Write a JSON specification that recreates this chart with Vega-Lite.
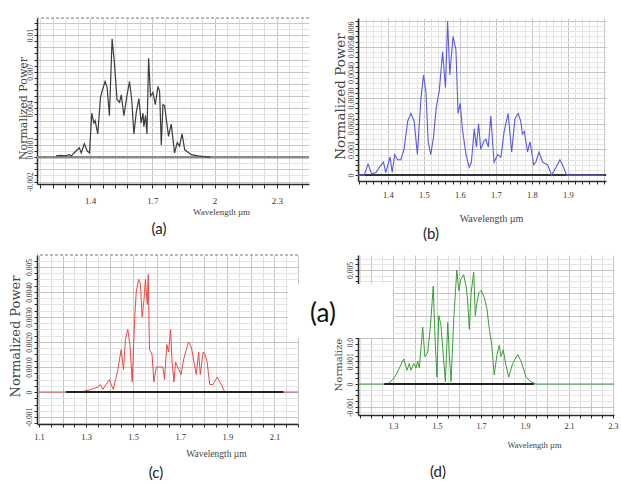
{
  "$schema": "https://vega.github.io/schema/vega-lite/v6.json",
  "padding": {"left": 9, "top": 17, "right": 5, "bottom": 5},
  "background": "white",
  "columns": 2,
  "bounds": "flush",
  "align": "each",
  "spacing": {"row": 71, "column": 49},
  "datasets": {
    "a": [
      {"wl": 1.236, "p": 0.0001}, {"wl": 1.26, "p": 0.00015}, {"wl": 1.28, "p": 0.0001}, {"wl": 1.3, "p": 0.0002}, {"wl": 1.31, "p": 0.0001}, {"wl": 1.32, "p": 0.0003},
      {"wl": 1.332, "p": 0.0005}, {"wl": 1.348, "p": 0.00076}, {"wl": 1.357, "p": 0.00035}, {"wl": 1.372, "p": 0.0011}, {"wl": 1.386, "p": 0.0005}, {"wl": 1.397, "p": 0.00035},
      {"wl": 1.408, "p": 0.0036}, {"wl": 1.418, "p": 0.0028}, {"wl": 1.424, "p": 0.003}, {"wl": 1.437, "p": 0.0019}, {"wl": 1.45, "p": 0.0049}, {"wl": 1.456, "p": 0.0053},
      {"wl": 1.472, "p": 0.0062}, {"wl": 1.482, "p": 0.0057}, {"wl": 1.493, "p": 0.0034}, {"wl": 1.506, "p": 0.0097}, {"wl": 1.517, "p": 0.0077}, {"wl": 1.53, "p": 0.0047},
      {"wl": 1.542, "p": 0.0045}, {"wl": 1.55, "p": 0.0051}, {"wl": 1.563, "p": 0.0034}, {"wl": 1.577, "p": 0.005}, {"wl": 1.59, "p": 0.0062}, {"wl": 1.601, "p": 0.0046},
      {"wl": 1.611, "p": 0.0019}, {"wl": 1.622, "p": 0.0036}, {"wl": 1.635, "p": 0.0048}, {"wl": 1.646, "p": 0.0028}, {"wl": 1.655, "p": 0.0036}, {"wl": 1.659, "p": 0.0025},
      {"wl": 1.667, "p": 0.0034}, {"wl": 1.674, "p": 0.0019}, {"wl": 1.682, "p": 0.0081}, {"wl": 1.691, "p": 0.005}, {"wl": 1.703, "p": 0.0053}, {"wl": 1.714, "p": 0.0043},
      {"wl": 1.727, "p": 0.0058}, {"wl": 1.735, "p": 0.0054}, {"wl": 1.743, "p": 0.001}, {"wl": 1.751, "p": 0.0043}, {"wl": 1.759, "p": 0.0042}, {"wl": 1.778, "p": 0.0017},
      {"wl": 1.791, "p": 0.0027}, {"wl": 1.807, "p": 0.00035}, {"wl": 1.82, "p": 0.0012}, {"wl": 1.831, "p": 0.0009}, {"wl": 1.843, "p": 0.0019}, {"wl": 1.856, "p": 0.0006},
      {"wl": 1.872, "p": 0.0004}, {"wl": 1.888, "p": 0.0002}, {"wl": 1.92, "p": 0.0001}, {"wl": 1.95, "p": 0.00005}, {"wl": 1.98, "p": 0}
    ],
    "b": [
      {"wl": 1.317, "p": 0}, {"wl": 1.334, "p": 0}, {"wl": 1.345, "p": 0.00043}, {"wl": 1.355, "p": 0.00005}, {"wl": 1.367, "p": 0.0001}, {"wl": 1.376, "p": 0.0003},
      {"wl": 1.388, "p": 0.0005}, {"wl": 1.394, "p": 0.0001}, {"wl": 1.4, "p": 0.0004}, {"wl": 1.406, "p": 0.0007}, {"wl": 1.412, "p": 0.0001}, {"wl": 1.419, "p": 0.0008},
      {"wl": 1.427, "p": 0.0006}, {"wl": 1.436, "p": 0.0006}, {"wl": 1.445, "p": 0.001}, {"wl": 1.455, "p": 0.0021}, {"wl": 1.464, "p": 0.0024}, {"wl": 1.473, "p": 0.0021},
      {"wl": 1.482, "p": 0.0008}, {"wl": 1.492, "p": 0.003}, {"wl": 1.499, "p": 0.0039}, {"wl": 1.506, "p": 0.0032}, {"wl": 1.512, "p": 0.0013}, {"wl": 1.519, "p": 0.0008},
      {"wl": 1.527, "p": 0.0015}, {"wl": 1.534, "p": 0.0026}, {"wl": 1.543, "p": 0.0033}, {"wl": 1.552, "p": 0.0048}, {"wl": 1.56, "p": 0.0034}, {"wl": 1.566, "p": 0.006},
      {"wl": 1.572, "p": 0.0039}, {"wl": 1.581, "p": 0.0054}, {"wl": 1.589, "p": 0.0049}, {"wl": 1.595, "p": 0.0024}, {"wl": 1.601, "p": 0.0028}, {"wl": 1.607, "p": 0.0018},
      {"wl": 1.617, "p": 0.0008}, {"wl": 1.626, "p": 0.0003}, {"wl": 1.632, "p": 0.0005}, {"wl": 1.64, "p": 0.0018}, {"wl": 1.646, "p": 0.0011}, {"wl": 1.652, "p": 0.002},
      {"wl": 1.658, "p": 0.001}, {"wl": 1.666, "p": 0.0013}, {"wl": 1.672, "p": 0.0014}, {"wl": 1.679, "p": 0.0011}, {"wl": 1.686, "p": 0.0023}, {"wl": 1.695, "p": 0.0005},
      {"wl": 1.705, "p": 0.0008}, {"wl": 1.714, "p": 0.0007}, {"wl": 1.723, "p": 0.0017}, {"wl": 1.734, "p": 0.0024}, {"wl": 1.744, "p": 0.0009}, {"wl": 1.753, "p": 0.0022},
      {"wl": 1.762, "p": 0.0024}, {"wl": 1.769, "p": 0.0021}, {"wl": 1.774, "p": 0.0016}, {"wl": 1.779, "p": 0.0017}, {"wl": 1.788, "p": 0.0009}, {"wl": 1.795, "p": 0.0013},
      {"wl": 1.805, "p": 0.0004}, {"wl": 1.811, "p": 0.0005}, {"wl": 1.82, "p": 0.0009}, {"wl": 1.83, "p": 0.0005}, {"wl": 1.844, "p": 0.0004}, {"wl": 1.855, "p": 0},
      {"wl": 1.867, "p": 0.0003}, {"wl": 1.878, "p": 0.0006}, {"wl": 1.885, "p": 0.0004}, {"wl": 1.897, "p": 0}, {"wl": 2.0, "p": 0}
    ],
    "c": [
      {"wl": 1.0915, "p": 0}, {"wl": 1.2, "p": 0}, {"wl": 1.279, "p": 0}, {"wl": 1.321, "p": 0.0001}, {"wl": 1.35, "p": 0.0002}, {"wl": 1.361, "p": 0.0003},
      {"wl": 1.371, "p": 0.0001}, {"wl": 1.385, "p": 0.0003}, {"wl": 1.399, "p": 0.0005}, {"wl": 1.406, "p": 0.0003}, {"wl": 1.416, "p": 0.0001}, {"wl": 1.425, "p": 0.0005},
      {"wl": 1.435, "p": 0.0009}, {"wl": 1.442, "p": 0.0013}, {"wl": 1.449, "p": 0.0017}, {"wl": 1.459, "p": 0.0009}, {"wl": 1.467, "p": 0.0021}, {"wl": 1.477, "p": 0.0025},
      {"wl": 1.486, "p": 0.0019}, {"wl": 1.496, "p": 0.0004}, {"wl": 1.506, "p": 0.0029}, {"wl": 1.513, "p": 0.004}, {"wl": 1.523, "p": 0.0045}, {"wl": 1.531, "p": 0.0043},
      {"wl": 1.538, "p": 0.003}, {"wl": 1.546, "p": 0.0037}, {"wl": 1.552, "p": 0.0045}, {"wl": 1.56, "p": 0.0035}, {"wl": 1.564, "p": 0.0047}, {"wl": 1.569, "p": 0.0017},
      {"wl": 1.58, "p": 0.0015}, {"wl": 1.588, "p": 0.0004}, {"wl": 1.598, "p": 0.001}, {"wl": 1.612, "p": 0.001}, {"wl": 1.626, "p": 0.001}, {"wl": 1.633, "p": 0.0005},
      {"wl": 1.643, "p": 0.0019}, {"wl": 1.65, "p": 0.0016}, {"wl": 1.659, "p": 0.0025}, {"wl": 1.665, "p": 0.0012}, {"wl": 1.673, "p": 0.0004}, {"wl": 1.68, "p": 0.0012},
      {"wl": 1.693, "p": 0.0009}, {"wl": 1.704, "p": 0.0007}, {"wl": 1.714, "p": 0.0013}, {"wl": 1.723, "p": 0.0016}, {"wl": 1.735, "p": 0.002}, {"wl": 1.747, "p": 0.0018},
      {"wl": 1.758, "p": 0.0012}, {"wl": 1.768, "p": 0.0007}, {"wl": 1.778, "p": 0.0016}, {"wl": 1.785, "p": 0.0007}, {"wl": 1.797, "p": 0.0016}, {"wl": 1.806, "p": 0.0015},
      {"wl": 1.814, "p": 0.0012}, {"wl": 1.825, "p": 0.0003}, {"wl": 1.839, "p": 0.0003}, {"wl": 1.857, "p": 0.0006}, {"wl": 1.874, "p": 0.0003}, {"wl": 1.889, "p": 0},
      {"wl": 2.2, "p": 0}
    ],
    "d": [
      {"wl": 1.141, "p": 0}, {"wl": 1.276, "p": 0}, {"wl": 1.299, "p": 0.0002}, {"wl": 1.314, "p": 0.0004}, {"wl": 1.329, "p": 0.0007}, {"wl": 1.349, "p": 0.0011},
      {"wl": 1.364, "p": 0.0006}, {"wl": 1.374, "p": 0.0009}, {"wl": 1.382, "p": 0.0006}, {"wl": 1.394, "p": 0.0009}, {"wl": 1.405, "p": 0.0007}, {"wl": 1.412, "p": 0.001},
      {"wl": 1.42, "p": 0.0007}, {"wl": 1.435, "p": 0.0025}, {"wl": 1.445, "p": 0.0012}, {"wl": 1.458, "p": 0.0014}, {"wl": 1.47, "p": 0.0025}, {"wl": 1.483, "p": 0.0043},
      {"wl": 1.492, "p": 0.0018}, {"wl": 1.5, "p": 0.0003}, {"wl": 1.508, "p": 0.003}, {"wl": 1.518, "p": 0.0026}, {"wl": 1.529, "p": 0.0012}, {"wl": 1.538, "p": 0.0001},
      {"wl": 1.549, "p": 0.0027}, {"wl": 1.556, "p": 0.0013}, {"wl": 1.564, "p": 0.0001}, {"wl": 1.576, "p": 0.0028}, {"wl": 1.59, "p": 0.005}, {"wl": 1.599, "p": 0.0041},
      {"wl": 1.609, "p": 0.0046}, {"wl": 1.621, "p": 0.0048}, {"wl": 1.632, "p": 0.0043}, {"wl": 1.639, "p": 0.0037}, {"wl": 1.647, "p": 0.0024}, {"wl": 1.655, "p": 0.004},
      {"wl": 1.667, "p": 0.0049}, {"wl": 1.674, "p": 0.003}, {"wl": 1.682, "p": 0.0036}, {"wl": 1.69, "p": 0.004}, {"wl": 1.7, "p": 0.0041}, {"wl": 1.715, "p": 0.0038},
      {"wl": 1.727, "p": 0.0033}, {"wl": 1.738, "p": 0.0024}, {"wl": 1.749, "p": 0.0017}, {"wl": 1.76, "p": 0.0004}, {"wl": 1.773, "p": 0.0013}, {"wl": 1.783, "p": 0.0017},
      {"wl": 1.791, "p": 0.0012}, {"wl": 1.801, "p": 0.0015}, {"wl": 1.814, "p": 0.0008}, {"wl": 1.826, "p": 0.0003}, {"wl": 1.844, "p": 0.0009}, {"wl": 1.867, "p": 0.0013},
      {"wl": 1.882, "p": 0.001}, {"wl": 1.905, "p": 0.0003}, {"wl": 1.927, "p": 0.0001}, {"wl": 1.95, "p": 0}, {"wl": 2.304, "p": 0}
    ]
  },
  "concat": [
    {
      "width": 272, "height": 166,
      "title": {"text": "(a)", "orient": "bottom", "frame": "group", "anchor": "middle", "dx": -14, "offset": 6, "baseline": "top"},
      "layer": [
        {
          "data": {"values": [{}]},
          "mark": {"type": "rule", "color": "#8a8a8a", "strokeWidth": 2.5},
          "encoding": {"y": {"datum": 0, "type": "quantitative", "scale": {"domain": [-0.0022, 0.0114], "nice": false, "zero": false}}}
        },
        {
          "data": {"values": [{}]},
          "mark": {"type": "rule", "color": "#777777", "strokeWidth": 1, "strokeDash": [3, 2]},
          "encoding": {"y": {"datum": 0.0114, "type": "quantitative", "scale": {"domain": [-0.0022, 0.0114], "nice": false, "zero": false}}}
        },
        {
          "data": {"name": "a"},
          "mark": {"type": "line", "color": "#3c3c3c", "strokeWidth": 1.2},
          "encoding": {
            "x": {"field": "wl", "type": "quantitative", "scale": {"domain": [1.144, 2.455], "nice": false, "zero": false},
              "axis": {"values": [1.16, 1.22, 1.28, 1.34, 1.4, 1.46, 1.52, 1.58, 1.64, 1.7, 1.76, 1.82, 1.88, 1.94, 2, 2.06, 2.12, 2.18, 2.24, 2.3, 2.36, 2.42],
                "tickCount": 500, "labelOverlap": false,
                "labelExpr": "(datum.value == 1.4 || datum.value == 1.7 || datum.value == 2 || datum.value == 2.3) ? '' + datum.value : ''",
                "gridColor": {"condition": {"test": "datum.value == 1.4 || datum.value == 1.7 || datum.value == 2 || datum.value == 2.3", "value": "#c4c4c4"}, "value": "#dddddd"},
                "title": "Wavelength µm", "titleX": 184, "titleY": 27, "titleFontSize": 9, "labelFontSize": 9, "labelPadding": 8, "tickSize": 4}},
            "y": {"field": "p", "type": "quantitative", "scale": {"domain": [-0.0022, 0.0114], "nice": false, "zero": false},
              "axis": {"values": [-0.002, -0.0015, -0.001, -0.0005, 0, 0.0005, 0.001, 0.0015, 0.002, 0.0025, 0.003, 0.0035, 0.004, 0.0045, 0.005, 0.0055, 0.006, 0.0065, 0.007, 0.0075, 0.008, 0.0085, 0.009, 0.0095, 0.01, 0.0105, 0.011],
                "tickCount": 500, "labelOverlap": false,
                "labelExpr": "datum.value == 0.01 ? '0.01' : datum.value == 0.007 ? '0.007' : datum.value == 0.004 ? '0.004' : datum.value == 0.001 ? '0.001' : datum.value == 0 ? '0' : datum.value == -0.002 ? '-0.002' : ''",
                "gridColor": {"condition": {"test": "datum.value == -0.002 || datum.value == -0.001 || datum.value == 0 || datum.value == 0.001 || datum.value == 0.002 || datum.value == 0.003 || datum.value == 0.004 || datum.value == 0.005 || datum.value == 0.006 || datum.value == 0.007 || datum.value == 0.008 || datum.value == 0.009 || datum.value == 0.01 || datum.value == 0.011", "value": "#c8c8c8"}, "value": "#e4e4e4"},
                "title": "Normalized Power", "titleFont": "DejaVu Serif", "titleX": -14, "titleY": 90, "titleFontSize": 11, "labelFontSize": 7.5, "labelPadding": 0, "tickSize": 3}}
          }
        }
      ]
    },
    {
      "width": 248, "height": 163,
      "title": {"text": "(b)", "orient": "bottom", "frame": "group", "anchor": "middle", "dx": -51, "offset": 4, "baseline": "top"},
      "layer": [
        {
          "data": {"values": [{}]},
          "mark": {"type": "rule", "color": "#333333", "strokeWidth": 2},
          "encoding": {"y": {"datum": 0, "type": "quantitative", "scale": {"domain": [-0.00023, 0.00612], "nice": false, "zero": false}}}
        },
        {
          "data": {"name": "b"},
          "mark": {"type": "line", "color": "#5a5ae0", "strokeWidth": 1.1},
          "encoding": {
            "x": {"field": "wl", "type": "quantitative", "scale": {"domain": [1.317, 2.006], "nice": false, "zero": false},
              "axis": {"values": [1.32, 1.34, 1.36, 1.38, 1.4, 1.42, 1.44, 1.46, 1.48, 1.5, 1.52, 1.54, 1.56, 1.58, 1.6, 1.62, 1.64, 1.66, 1.68, 1.7, 1.72, 1.74, 1.76, 1.78, 1.8, 1.82, 1.84, 1.86, 1.88, 1.9, 1.92, 1.94, 1.96, 1.98, 2],
                "tickCount": 500, "labelOverlap": false,
                "labelExpr": "(datum.value == 1.4 || datum.value == 1.5 || datum.value == 1.6 || datum.value == 1.7 || datum.value == 1.8 || datum.value == 1.9) ? '' + datum.value : ''",
                "gridColor": {"condition": {"test": "datum.value == 1.4 || datum.value == 1.5 || datum.value == 1.6 || datum.value == 1.7 || datum.value == 1.8 || datum.value == 1.9 || datum.value == 2", "value": "#c4c4c4"}, "value": "#e4e4e4"},
                "title": "Wavelength µm", "titleX": 133, "titleY": 37, "titleFontSize": 10, "labelFontSize": 8.5, "labelPadding": 6, "tickSize": 3}},
            "y": {"field": "p", "type": "quantitative", "scale": {"domain": [-0.00023, 0.00612], "nice": false, "zero": false},
              "axis": {"values": [0, 0.0002, 0.0004, 0.0006, 0.0008, 0.001, 0.0012, 0.0014, 0.0016, 0.0018, 0.002, 0.0022, 0.0024, 0.0026, 0.0028, 0.003, 0.0032, 0.0034, 0.0036, 0.0038, 0.004, 0.0042, 0.0044, 0.0046, 0.0048, 0.005, 0.0052, 0.0054, 0.0056, 0.0058, 0.006],
                "tickCount": 500, "labelOverlap": false,
                "labelExpr": "datum.value == 0 ? '0' : datum.value == 0.001 ? '0.001' : datum.value == 0.002 ? '0.0020' : datum.value == 0.003 ? '0.0030' : datum.value == 0.004 ? '0.0040' : datum.value == 0.005 ? '0.0050' : datum.value == 0.006 ? '0.006' : ''",
                "labelAlign": {"condition": {"test": "datum.value == 0.006", "value": "right"}, "value": "center"},
                "gridColor": {"condition": {"test": "datum.value == 0 || datum.value == 0.001 || datum.value == 0.002 || datum.value == 0.003 || datum.value == 0.004 || datum.value == 0.005 || datum.value == 0.006", "value": "#c4c4c4"}, "value": "#e6e6e6"},
                "title": "Normalized Power", "titleFont": "DejaVu Serif", "titleX": -18, "titleY": 78, "titleFontSize": 13.5, "labelFontSize": 8, "labelPadding": 0, "tickSize": 3}}
          }
        }
      ]
    },
    {
      "width": 261, "height": 169,
      "title": {"text": "(c)", "orient": "bottom", "frame": "group", "anchor": "middle", "dx": -11.5, "offset": 8, "baseline": "top"},
      "layer": [
        {
          "data": {"values": [{}]},
          "mark": {"type": "rule", "color": "#777777", "strokeWidth": 1, "strokeDash": [3, 2]},
          "encoding": {"y": {"datum": 0.00548, "type": "quantitative", "scale": {"domain": [-0.00128, 0.00548], "nice": false, "zero": false}}}
        },
        {
          "data": {"name": "c"},
          "mark": {"type": "line", "color": "#e64a4a", "strokeWidth": 1},
          "encoding": {
            "x": {"field": "wl", "type": "quantitative", "scale": {"domain": [1.0915, 2.2], "nice": false, "zero": false},
              "axis": {"values": [1.1, 1.15, 1.2, 1.25, 1.3, 1.35, 1.4, 1.45, 1.5, 1.55, 1.6, 1.65, 1.7, 1.75, 1.8, 1.85, 1.9, 1.95, 2, 2.05, 2.1, 2.15, 2.2],
                "tickCount": 500, "labelOverlap": false,
                "labelExpr": "(datum.value == 1.1 || datum.value == 1.3 || datum.value == 1.5 || datum.value == 1.7 || datum.value == 1.9 || datum.value == 2.1) ? '' + datum.value : ''",
                "gridColor": {"condition": {"test": "datum.value == 1.1 || datum.value == 1.2 || datum.value == 1.3 || datum.value == 1.4 || datum.value == 1.5 || datum.value == 1.6 || datum.value == 1.7 || datum.value == 1.8 || datum.value == 1.9 || datum.value == 2 || datum.value == 2.1 || datum.value == 2.2", "value": "#c4c4c4"}, "value": "#e0e0e0"},
                "title": "Wavelength µm", "titleX": 179, "titleY": 29, "titleFontSize": 9.5, "labelFontSize": 8.5, "labelPadding": 5, "tickSize": 3}},
            "y": {"field": "p", "type": "quantitative", "scale": {"domain": [-0.00128, 0.00548], "nice": false, "zero": false},
              "axis": {"values": [-0.00125, -0.001, -0.00075, -0.0005, -0.00025, 0, 0.00025, 0.0005, 0.00075, 0.001, 0.00125, 0.0015, 0.00175, 0.002, 0.00225, 0.0025, 0.00275, 0.003, 0.00325, 0.0035, 0.00375, 0.004, 0.00425, 0.0045, 0.00475, 0.005, 0.00525],
                "tickCount": 500, "labelOverlap": false,
                "labelExpr": "datum.value == -0.001 ? '-0.001' : datum.value == 0 ? '0' : datum.value == 0.001 ? '0.0010' : datum.value == 0.002 ? '0.0020' : datum.value == 0.003 ? '0.0030' : datum.value == 0.004 ? '0.0040' : datum.value == 0.005 ? '0.005' : ''",
                "gridColor": {"condition": {"test": "datum.value == -0.001 || datum.value == 0 || datum.value == 0.001 || datum.value == 0.002 || datum.value == 0.003 || datum.value == 0.004 || datum.value == 0.005", "value": "#c4c4c4"}, "value": "#e4e4e4"},
                "title": "Normalized Power", "titleFont": "DejaVu Serif", "titleX": -22, "titleY": 81, "titleFontSize": 13, "labelFontSize": 7.5, "labelPadding": 1, "tickSize": 3}}
          }
        },
        {
          "data": {"values": [{}]},
          "mark": {"type": "rule", "color": "#222222", "strokeWidth": 2},
          "encoding": {
            "x": {"datum": 1.215, "type": "quantitative", "scale": {"domain": [1.0915, 2.2], "nice": false, "zero": false}},
            "x2": {"datum": 2.138},
            "y": {"datum": 0, "type": "quantitative", "scale": {"domain": [-0.00128, 0.00548], "nice": false, "zero": false}}
          }
        }
      ]
    },
    {
      "width": 256, "height": 160,
      "title": {"text": "(d)", "orient": "bottom", "frame": "group", "anchor": "middle", "dx": -48, "offset": 16, "baseline": "top"},
      "layer": [
        {
          "data": {"name": "d"},
          "mark": {"type": "line", "color": "#3c9c3c", "strokeWidth": 1},
          "encoding": {
            "x": {"field": "wl", "type": "quantitative", "scale": {"domain": [1.141, 2.3045], "nice": false, "zero": false},
              "axis": {"values": [1.15, 1.2, 1.25, 1.3, 1.35, 1.4, 1.45, 1.5, 1.55, 1.6, 1.65, 1.7, 1.75, 1.8, 1.85, 1.9, 1.95, 2, 2.05, 2.1, 2.15, 2.2, 2.25, 2.3],
                "tickCount": 500, "labelOverlap": false,
                "labelExpr": "(datum.value == 1.3 || datum.value == 1.5 || datum.value == 1.7 || datum.value == 1.9 || datum.value == 2.1 || datum.value == 2.3) ? '' + datum.value : ''",
                "gridColor": {"condition": {"test": "datum.value == 1.2 || datum.value == 1.3 || datum.value == 1.4 || datum.value == 1.5 || datum.value == 1.6 || datum.value == 1.7 || datum.value == 1.8 || datum.value == 1.9 || datum.value == 2 || datum.value == 2.1 || datum.value == 2.2 || datum.value == 2.3", "value": "#c4c4c4"}, "value": "#e0e0e0"},
                "title": "Wavelength µm", "titleX": 176, "titleY": 29, "titleFontSize": 8.5, "labelFontSize": 8, "labelPadding": 4, "tickSize": 3}},
            "y": {"field": "p", "type": "quantitative", "scale": {"domain": [-0.00136, 0.00566], "nice": false, "zero": false},
              "axis": {"values": [-0.00125, -0.001, -0.00075, -0.0005, -0.00025, 0, 0.00025, 0.0005, 0.00075, 0.001, 0.00125, 0.0015, 0.00175, 0.002, 0.00225, 0.0025, 0.00275, 0.003, 0.00325, 0.0035, 0.00375, 0.004, 0.00425, 0.0045, 0.00475, 0.005, 0.00525, 0.0055],
                "tickCount": 500, "labelOverlap": false,
                "labelExpr": "datum.value == -0.001 ? '-0.001' : datum.value == 0 ? '0' : datum.value == 0.001 ? '0.001' : datum.value == 0.002 ? '0.002' : datum.value == 0.003 ? '0.003' : datum.value == 0.004 ? '0.004' : datum.value == 0.005 ? '0.005' : ''",
                "gridColor": {"condition": {"test": "datum.value == -0.001 || datum.value == 0 || datum.value == 0.001 || datum.value == 0.002 || datum.value == 0.003 || datum.value == 0.004 || datum.value == 0.005", "value": "#c4c4c4"}, "value": "#e4e4e4"},
                "title": "Normalized Power", "titleFont": "DejaVu Serif", "titleX": -20, "titleY": 89, "titleFontSize": 10, "labelFontSize": 7.5, "labelPadding": 1, "tickSize": 3}}
          }
        },
        {
          "data": {"values": [{}]},
          "mark": {"type": "rule", "color": "#222222", "strokeWidth": 2},
          "encoding": {
            "x": {"datum": 1.26, "type": "quantitative", "scale": {"domain": [1.141, 2.3045], "nice": false, "zero": false}},
            "x2": {"datum": 1.94},
            "y": {"datum": 0, "type": "quantitative", "scale": {"domain": [-0.00136, 0.00566], "nice": false, "zero": false}}
          }
        },
        {
          "data": {"values": [{}]},
          "mark": {"type": "rect", "color": "white", "clip": false},
          "encoding": {
            "x": {"datum": 0.8227, "type": "quantitative", "scale": {"domain": [1.141, 2.3045], "nice": false, "zero": false}},
            "x2": {"datum": 1.3},
            "y": {"datum": 0.00439, "type": "quantitative", "scale": {"domain": [-0.00136, 0.00566], "nice": false, "zero": false}},
            "y2": {"datum": 0.00202}
          }
        },
        {
          "data": {"values": [{}]},
          "mark": {"type": "text", "text": "(a)", "font": "Lato", "fontSize": 26, "color": "#111111", "align": "center", "baseline": "middle", "clip": false},
          "encoding": {
            "x": {"datum": 0.982, "type": "quantitative", "scale": {"domain": [1.141, 2.3045], "nice": false, "zero": false}},
            "y": {"datum": 0.00307, "type": "quantitative", "scale": {"domain": [-0.00136, 0.00566], "nice": false, "zero": false}}
          }
        }
      ]
    }
  ],
  "config": {
    "view": {"stroke": null},
    "axis": {
      "labelFont": "Liberation Serif", "titleFont": "Liberation Serif", "labelColor": "#333333", "titleColor": "#444444",
      "titleFontWeight": "normal", "domainColor": "#2a2a2a", "domainWidth": 1.5, "tickColor": "#2a2a2a", "tickWidth": 1,
      "gridWidth": 1, "labelOverlap": false, "labelBound": false, "labelFlush": false, "grid": true
    },
    "axisY": {"labelAngle": -90, "labelAlign": "center", "labelBaseline": "bottom", "titleAngle": -90, "titleAlign": "center", "titleBaseline": "middle"},
    "axisX": {"labelAngle": 0, "titleAlign": "center", "titleBaseline": "middle"},
    "title": {"font": "Lato", "fontSize": 15, "fontWeight": "normal", "color": "#222222"}
  }
}
